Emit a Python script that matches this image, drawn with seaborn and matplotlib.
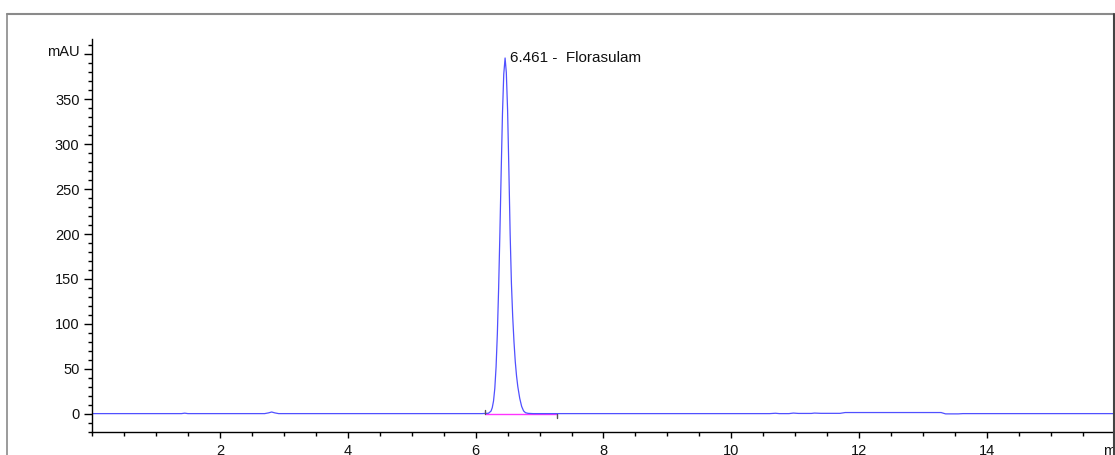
import numpy as np
import matplotlib
matplotlib.use('Agg')
import matplotlib.pyplot as plt
import matplotlib.transforms as mtransforms
import seaborn as sns
import pandas as pd
from matplotlib.lines import Line2D
from matplotlib.ticker import MultipleLocator

# chromatogram trace (min, mAU)
trace_time = [0.0, 1.40, 1.45, 1.50, 2.70, 2.76, 2.81, 2.86, 2.92, 6.10,
              6.20, 6.24, 6.26, 6.28, 6.30, 6.32, 6.34, 6.36, 6.38, 6.40,
              6.42, 6.44, 6.461, 6.48, 6.50, 6.52, 6.54, 6.56, 6.58, 6.60,
              6.62, 6.64, 6.66, 6.69, 6.72, 6.75, 6.78, 6.82, 6.90,
              10.60, 10.69, 10.75, 10.90, 10.97, 11.05, 11.25, 11.30, 11.40,
              11.70, 11.78, 13.28, 13.35, 13.55, 13.62, 16.0]
trace_mau = [0.0, 0.0, 0.5, 0.0, 0.0, 0.8, 1.8, 0.8, 0.0, 0.0,
             0.4, 2.7, 6.5, 14, 28, 52, 89, 140, 202, 270,
             334, 378, 396, 380, 338, 272, 200, 145, 108, 80,
             58, 42, 30, 17, 8, 3, 1.0, 0.3, 0.0,
             0.0, 0.4, 0.0, 0.0, 0.6, 0.2, 0.2, 0.6, 0.3,
             0.3, 1.2, 1.2, -0.3, -0.3, 0.0, 0.0]

# integration baseline
baseline_start = 6.14
baseline_end = 7.28

peak_rt = 6.461
peak_height = 396
peak_name = 'Florasulam'

y_ticks = [0, 50, 100, 150, 200, 250, 300, 350, 400]
y_labels = ['0', '50', '100', '150', '200', '250', '300', '350', 'mAU']
x_ticks = [2, 4, 6, 8, 10, 12, 14, 16]
x_labels = ['2', '4', '6', '8', '10', '12', '14', 'min']

sns.set_theme(style='white')
plt.rcParams['font.family'] = ['Liberation Sans', 'DejaVu Sans']

fig = plt.figure(figsize=(11.15, 4.55), dpi=100)
ax = fig.add_axes([0.0825, 0.0505, 0.9175, 0.8635])

df = pd.DataFrame({'time': trace_time, 'mau': trace_mau})
sns.lineplot(data=df, x='time', y='mau', ax=ax, color='#5050ff',
             linewidth=0.9, estimator=None, sort=False)

# baseline + start/end marks
ax.plot([baseline_start, baseline_end], [0, 0], color='#ff33ff', linewidth=1.0, zorder=1)
ax.plot([baseline_start, baseline_start], [0, 4.5], color='#555555', linewidth=1.0)
ax.plot([baseline_end, baseline_end], [0, -4.5], color='#555555', linewidth=1.0)

ax.text(peak_rt + 0.07, peak_height, f'{peak_rt:.3f} -  {peak_name}',
        fontsize=11, va='center', ha='left', color='#111111')

ax.set_xlim(0, 16)
ax.set_ylim(-20.5, 417)
ax.set_xticks(x_ticks)
ax.set_xticklabels(x_labels)
ax.set_yticks(y_ticks)
ax.set_yticklabels(y_labels)
ax.xaxis.set_minor_locator(MultipleLocator(0.5))
ax.yaxis.set_minor_locator(MultipleLocator(10))
ax.tick_params(axis='y', which='major', direction='out', length=6,
               width=1, color='black', labelsize=10.5, pad=3, labelcolor='#111111')
ax.tick_params(axis='x', which='major', direction='out', length=4.5,
               width=1, color='black', labelsize=10.5, pad=4, labelcolor='#111111')
ax.tick_params(axis='both', which='minor', direction='out', length=3,
               width=1, color='black')
ax.tick_params(axis='x', which='both', bottom=True)
ax.tick_params(axis='y', which='both', left=True)
ax.set_xlabel('')
ax.set_ylabel('')

# the unit label sits a little above its tick
shift = mtransforms.ScaledTranslation(0, 4 / 100, fig.dpi_scale_trans)
top_label = ax.get_yticklabels()[-1]
top_label.set_transform(top_label.get_transform() + shift)

for s in ['top', 'right']:
    ax.spines[s].set_visible(False)
for s in ['left', 'bottom']:
    ax.spines[s].set_color('black')
    ax.spines[s].set_linewidth(1.0)

# outer frame of the report window
fx0, fx1, fy1 = 7 / 1115, 1113.5 / 1115, 1 - 13.5 / 455
fig.add_artist(Line2D([fx0, fx1], [fy1, fy1], color='#8a8a8a', linewidth=1.5))
fig.add_artist(Line2D([fx0, fx0], [0, fy1], color='#8a8a8a', linewidth=1.2))
fig.add_artist(Line2D([fx1, fx1], [0, fy1], color='#444444', linewidth=1.5))

plt.savefig('out.png', dpi=100)
plt.close()
